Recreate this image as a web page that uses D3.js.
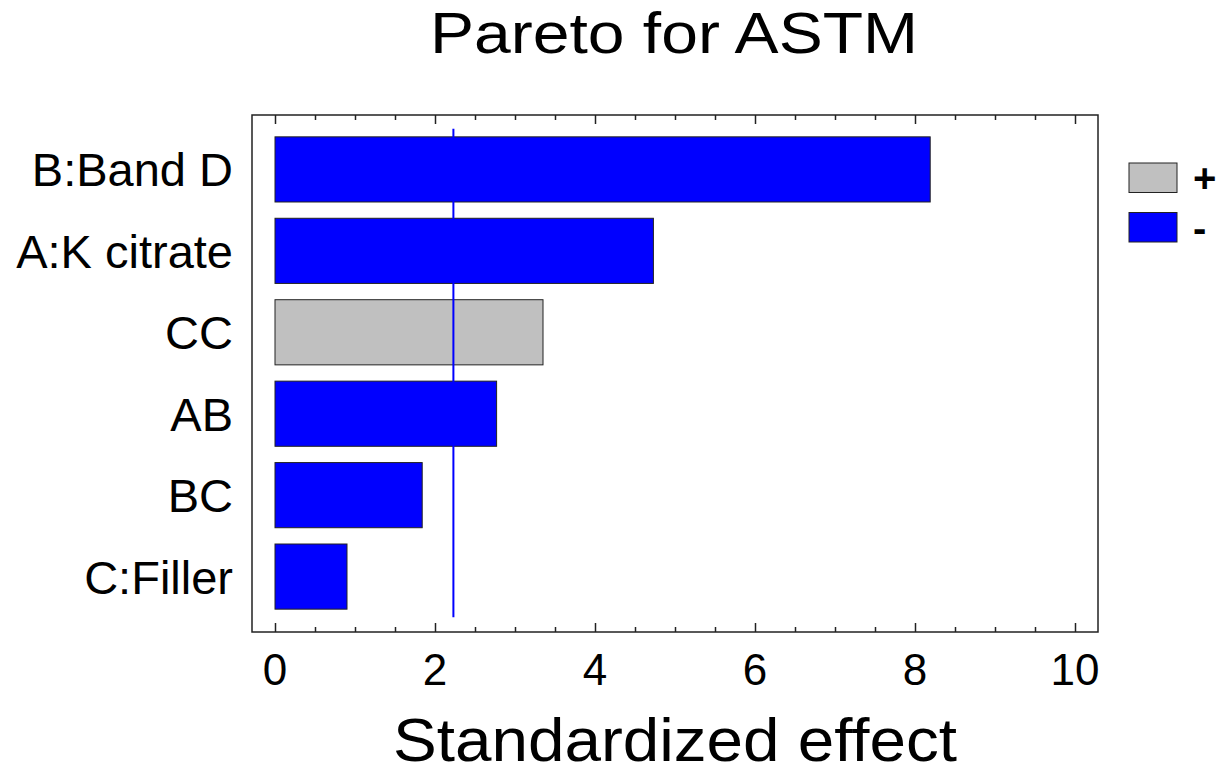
<!DOCTYPE html>
<html>
<head>
<meta charset="utf-8">
<script src="https://cdn.jsdelivr.net/npm/d3@7"></script>
<style>
  body { margin: 0; background: #fff; }
  text { font-family: "Liberation Sans", Arial, sans-serif; fill: #000; }
</style>
</head>
<body>
<svg></svg>
<script>
// data
let factors = ['B:Band D', 'A:K citrate', 'CC', 'AB', 'BC', 'C:Filler']
let effects = [8.19, 4.73, 3.35, 2.77, 1.84, 0.9]
let signs = ['-', '-', '+', '-', '-', '-']
let critical = 2.23
let majorTicks = [0, 2, 4, 6, 8, 10]
let legendKeys = ['+', '-']

let width = 1220,
    height = 766;
let box = {left: 252, right: 1098, top: 115, bottom: 632}

let svg = d3.select('svg')
            .attr('width', width)
            .attr('height', height)

let signColor = d3.scaleOrdinal()
    .domain(['+', '-'])
    .range(['#c0c0c0', '#0000ff'])

//x scale
let xScale = d3.scaleLinear()
      .domain([0, 10])
      .range([275, 1075])

//y scale
let yScale = d3.scaleBand()
      .domain(factors)
      .range([128.7, 617.3])
      .paddingInner(0.2)
      .paddingOuter(0.1)

let rows = factors.map((f, i) => ({name: f, value: effects[i], sign: signs[i]}))

// frame
svg.append('rect')
   .attr('x', box.left)
   .attr('y', box.top)
   .attr('width', box.right - box.left)
   .attr('height', box.bottom - box.top)
   .attr('fill', 'none')
   .attr('stroke', '#222')
   .attr('stroke-width', 1.5)

let minorTicks = d3.range(0, 10.01, 0.5).filter(v => v % 2 !== 0)

// ticks, pointing into the plot
function tickAxis(axisFn, y, values, size) {
  svg.append('g')
     .attr('transform', 'translate(0,' + y + ')')
     .call(axisFn(xScale).tickValues(values).tickSize(-size).tickFormat(''))
     .call(g => g.select('.domain').remove())
     .call(g => g.selectAll('line').attr('stroke', '#222').attr('stroke-width', 1.5))
}
tickAxis(d3.axisBottom, box.bottom, majorTicks, 9)
tickAxis(d3.axisBottom, box.bottom, minorTicks, 5)
tickAxis(d3.axisTop, box.top, majorTicks, 9)
tickAxis(d3.axisTop, box.top, minorTicks, 5)

// tick labels
svg.append('g')
   .selectAll('text')
   .data(majorTicks)
   .enter()
   .append('text')
   .attr('x', d => xScale(d))
   .attr('y', 685)
   .attr('text-anchor', 'middle')
   .style('font-size', '44px')
   .text(d => d)

// bars
svg.append('g')
   .selectAll('rect')
   .data(rows)
   .enter()
   .append('rect')
   .attr('x', xScale(0))
   .attr('y', d => yScale(d.name))
   .attr('width', d => xScale(d.value) - xScale(0))
   .attr('height', yScale.bandwidth())
   .attr('fill', d => signColor(d.sign))
   .attr('stroke', '#222')
   .attr('stroke-width', 1)

// critical line
svg.append('line')
   .attr('x1', xScale(critical))
   .attr('x2', xScale(critical))
   .attr('y1', yScale.range()[0])
   .attr('y2', yScale.range()[1])
   .attr('stroke', '#0000ff')
   .attr('stroke-width', 2)

// factor labels
svg.append('g')
   .selectAll('text')
   .data(factors)
   .enter()
   .append('text')
   .attr('x', 233)
   .attr('y', d => yScale(d) + yScale.bandwidth() / 2)
   .attr('dy', '0.36em')
   .attr('text-anchor', 'end')
   .style('font-size', '47px')
   .text(d => d)

// legend
let legend = svg.append('g')
   .selectAll('g')
   .data(legendKeys)
   .enter()
   .append('g')
   .attr('transform', (d, i) => 'translate(1129,' + (163 + i * 49.5) + ')')

legend.append('rect')
      .attr('width', 48)
      .attr('height', 29.5)
      .attr('fill', d => signColor(d))
      .attr('stroke', '#222')
      .attr('stroke-width', 1)

legend.append('text')
      .attr('x', 64)
      .attr('y', 15)
      .attr('dy', '0.36em')
      .style('font-size', '40px')
      .style('font-weight', 'bold')
      .text(d => d)

// titles
svg.append('text')
   .attr('x', 674)
   .attr('y', 53)
   .attr('text-anchor', 'middle')
   .attr('textLength', 488)
   .attr('lengthAdjust', 'spacingAndGlyphs')
   .style('font-size', '57px')
   .text('Pareto for ASTM')

svg.append('text')
   .attr('x', 675)
   .attr('y', 761)
   .attr('text-anchor', 'middle')
   .attr('textLength', 564)
   .attr('lengthAdjust', 'spacingAndGlyphs')
   .style('font-size', '61px')
   .text('Standardized effect')
</script>
</body>
</html>
